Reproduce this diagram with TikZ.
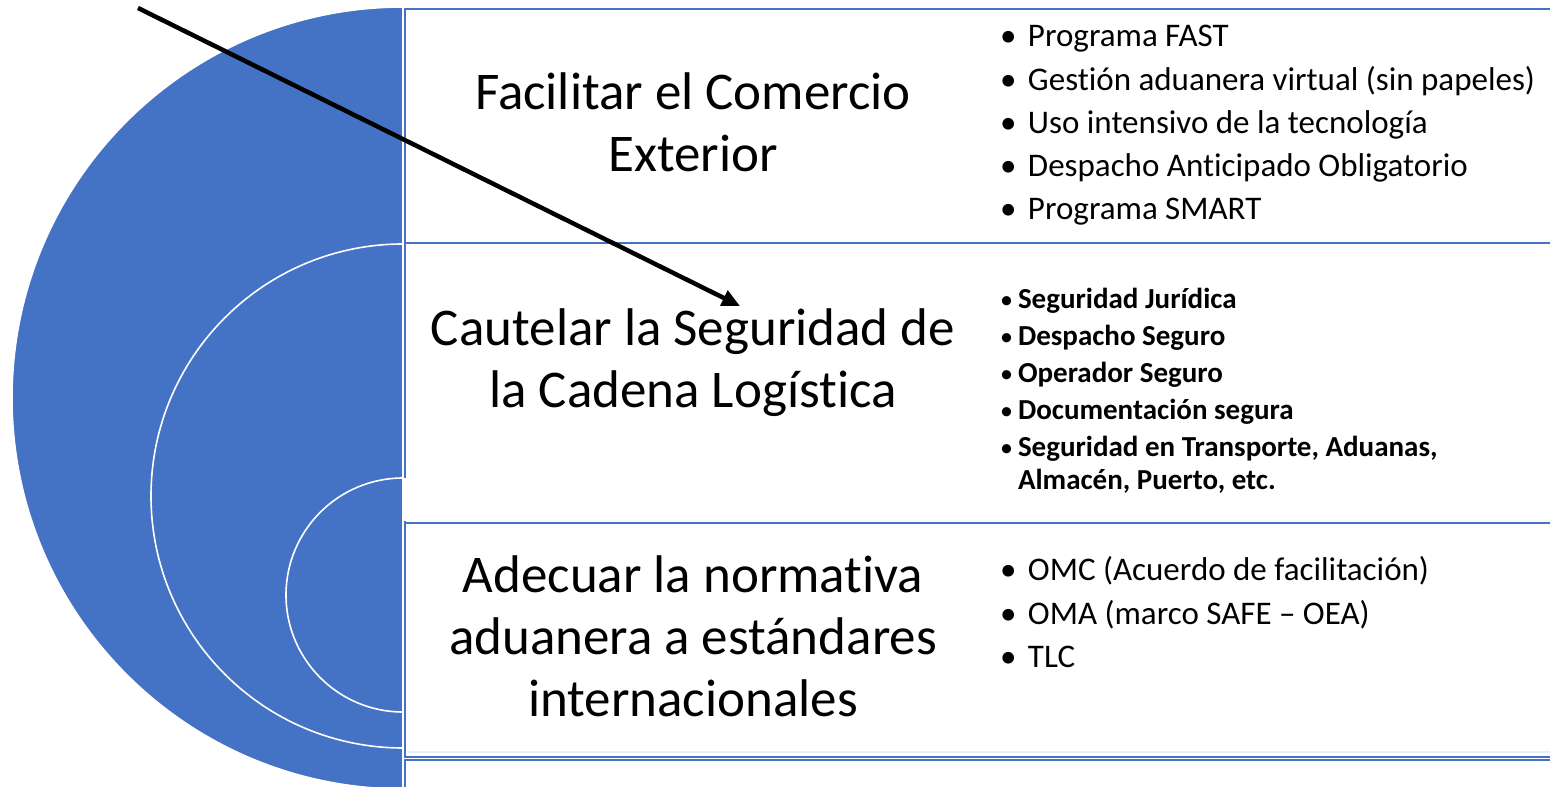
\documentclass[tikz,border=0pt]{standalone}
\usepackage{fontspec}
\setmainfont{Carlito}[Ligatures=CommonOff]
\usetikzlibrary{arrows.meta}
\definecolor{smartblue}{RGB}{68,114,196}

\begin{document}
\begin{tikzpicture}[
    x=1pt, y=1pt,
    every node/.style={inner sep=0pt, outer sep=0pt},
    ring/.style={fill=smartblue, draw=white, line width=1.6pt},
    band/.style={draw=smartblue, line width=1.6pt, fill=white},
    goal/.style={align=center, font=\fontsize{53}{62}\selectfont},
    item/.style={anchor=base west, font=\fontsize{33}{40}\selectfont},
    bolditem/.style={anchor=base west, font=\fontsize{29}{34}\selectfont\bfseries}
]
\useasboundingbox (0,0) rectangle (1550,787);
\clip (0,0) rectangle (1550,787);

% Semicirculos
\draw[ring] (403,780) arc[start angle=90, end angle=270, radius=391] -- cycle;
\draw[ring] (403,543) arc[start angle=90, end angle=270, radius=252] -- cycle;
\draw[ring] (403,309) arc[start angle=90, end angle=270, radius=117] -- cycle;

% Bandas
\draw[band] (405,778) rectangle (1560,544);
\draw[band] (405,544) rectangle (1560,264);
\draw[white, line width=2pt] (405,266) -- (405,309);
\draw[band] (405,264) rectangle (1560,30);
\draw[smartblue!12, line width=2pt] (408,35) -- (1560,35);
\draw[band] (405,27) rectangle (1560,-20);

% Objetivos
\node[goal] (comercio) at (693,665) {Facilitar el Comercio\\Exterior};
\node[goal] (cadena) at (693,424) {Cautelar la Seguridad de\\la Cadena Logística};
\node[goal] (normativa) at (693,151) {Adecuar la normativa\\aduanera a estándares\\internacionales};

% Acciones
\foreach \txt [count=\i] in {Programa FAST, Gestión aduanera virtual (sin papeles),
    Uso intensivo de la tecnología, Despacho Anticipado Obligatorio, Programa SMART}
  \node[item] (fast\i) at (1000,{740-43.2*(\i-1)}) {\makebox[28pt][l]{•}\txt};

\foreach \txt [count=\i] in {Seguridad Jurídica, Despacho Seguro, Operador Seguro,
    Documentación segura, {Seguridad en Transporte, Aduanas,}}
  \node[bolditem] (seg\i) at (1000,{478-37*(\i-1)})
    {\makebox[18pt][l]{\mdseries\fontsize{26}{26}\selectfont•}\txt};
\node[bolditem] (seg6) at (1018,297) {Almacén, Puerto, etc.};

\foreach \txt [count=\i] in {OMC (Acuerdo de facilitación), OMA (marco SAFE – OEA), TLC}
  \node[item] (omc\i) at (1000,{206-43.5*(\i-1)}) {\makebox[28pt][l]{•}\txt};

% Flecha
\coordinate (tail) at (138,779);
\coordinate (head) at (740,481);
\draw[-{Triangle[length=18pt,width=16pt]}, line width=4.5pt] (tail) -- (head);

\end{tikzpicture}
\end{document}
